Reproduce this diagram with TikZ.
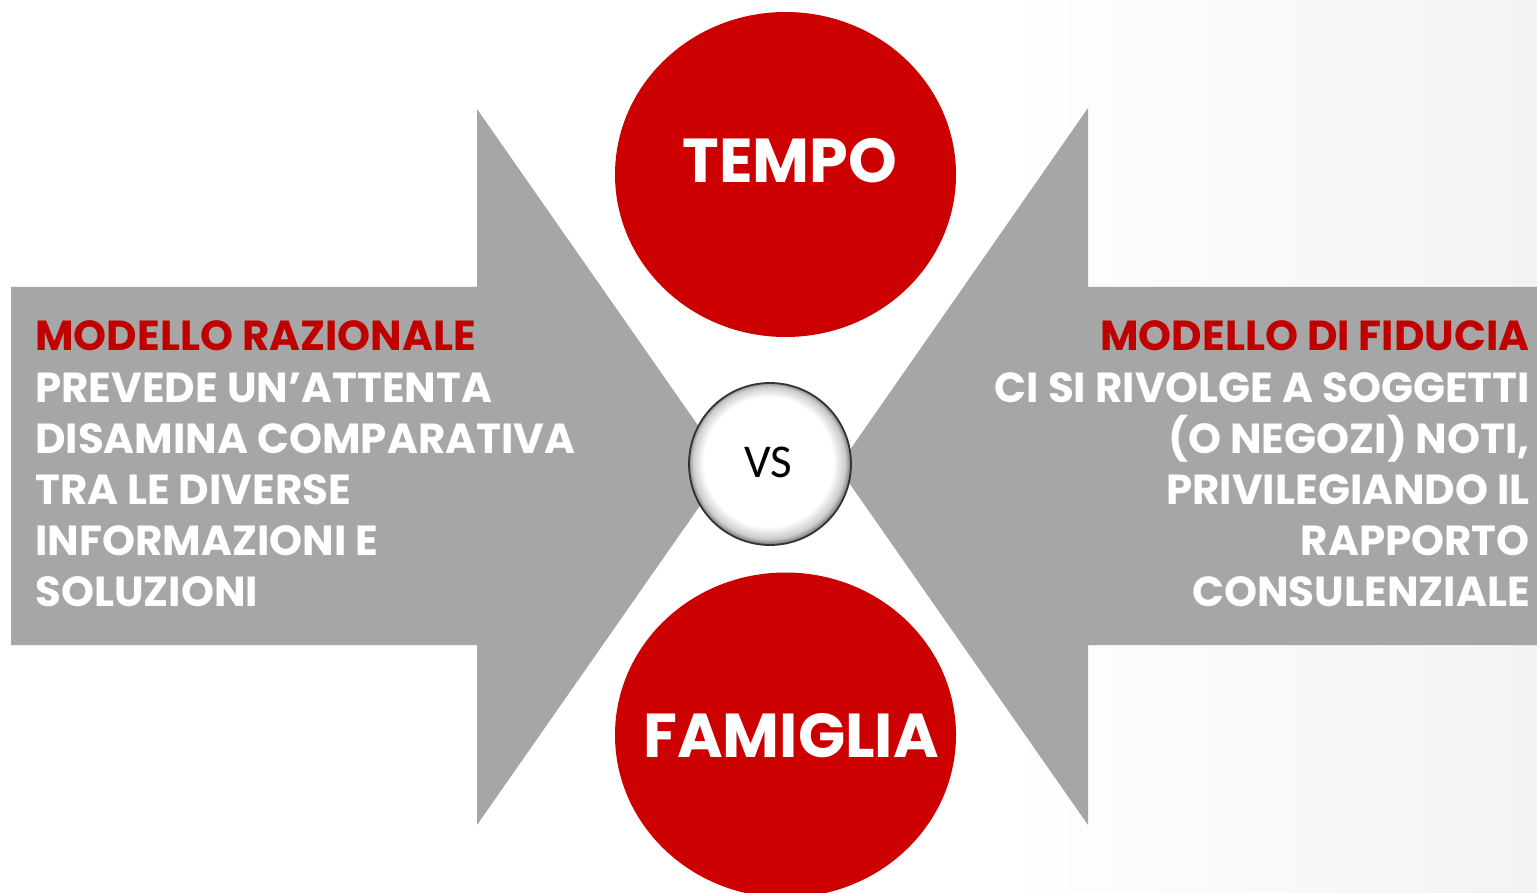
\documentclass[tikz,border=0pt]{standalone}
\usepackage{fontspec}
\newfontfamily\geofont{Poppins}
\newfontfamily\vsfont{Carlito}
\usetikzlibrary{shapes.geometric}
\definecolor{bgray}{HTML}{A6A6A6}
\definecolor{bred}{HTML}{CC0000}
\definecolor{tred}{HTML}{C00000}
\definecolor{bgend}{HTML}{F3F3F3}
\pgfdeclareradialshading{vsshade}{\pgfpoint{-1.5bp}{2bp}}{%
  color(0bp)=(white); color(20bp)=(white); color(23.5bp)=(black!20); color(25bp)=(black!50); color(30bp)=(black!50)}
\tikzset{
  redball/.style={ellipse, fill=bred, minimum width=341pt, minimum height=325pt, inner sep=0pt},
  bigword/.style={text=white, font=\geofont\bfseries\fontsize{62}{62}\selectfont, anchor=base, inner sep=0pt},
  leftline/.style={text=white, font=\geofont\bfseries\fontsize{42}{42}\selectfont, anchor=base west, inner sep=0pt},
  rightline/.style={text=white, font=\geofont\bfseries\fontsize{42}{42}\selectfont, anchor=base east, inner sep=0pt},
  vsball/.style={circle, minimum size=162pt, inner sep=0pt},
}
\begin{document}
\begin{tikzpicture}[x=1pt, y=-1pt]
\useasboundingbox (0,0) rectangle (1537,893);
\fill[white] (0,0) rectangle (1537,893);
\shade[left color=white, right color=bgend] (1000,0) rectangle (1537,893);
% left arrow
\fill[bgray] (11,287) -- (477,287) -- (477,109) -- (727,467) -- (477,825) -- (477,645) -- (11,645) -- cycle;
% right arrow
\fill[bgray] (1537,287) -- (1088,287) -- (1088,108) -- (838,467) -- (1088,825) -- (1088,645) -- (1537,645) -- cycle;
% red circles
\node[redball] (tempo) at (785.5,174.5) {};
\node[redball] (famiglia) at (785.5,735) {};
\node[bigword] (tempot) at (790,183) {TEMPO};
\node[bigword] (famigliat) at (791,757) {FAMIGLIA};
% vs
\node[vsball, fill=white] (vs) at (770,464) {};
\shade[shading=vsshade] (vs.center) circle (81pt);
\draw[black!80, line width=1.8pt] (vs.center) circle (81pt);
\node[font=\vsfont\fontsize{47}{47}\selectfont, anchor=base, inner sep=0pt] (vst) at (768,477) {VS};
% left text
\node[leftline, text=tred] (l1) at (35,351) {MODELLO RAZIONALE};
\node[leftline] (l2) at (35,402) {PREVEDE UN’ATTENTA};
\node[leftline] (l3) at (35,453) {DISAMINA COMPARATIVA};
\node[leftline] (l4) at (35,504) {TRA LE DIVERSE};
\node[leftline] (l5) at (35,555) {INFORMAZIONI E};
\node[leftline] (l6) at (35,606) {SOLUZIONI};
% right text
\node[rightline, text=tred] (r1) at (1530,351) {MODELLO DI FIDUCIA};
\node[rightline] (r2) at (1530,402) {CI SI RIVOLGE A SOGGETTI};
\node[rightline] (r3) at (1530,453) {(O NEGOZI) NOTI,};
\node[rightline] (r4) at (1530,504) {PRIVILEGIANDO IL};
\node[rightline] (r5) at (1530,555) {RAPPORTO};
\node[rightline] (r6) at (1530,606) {CONSULENZIALE};
\end{tikzpicture}
\end{document}
